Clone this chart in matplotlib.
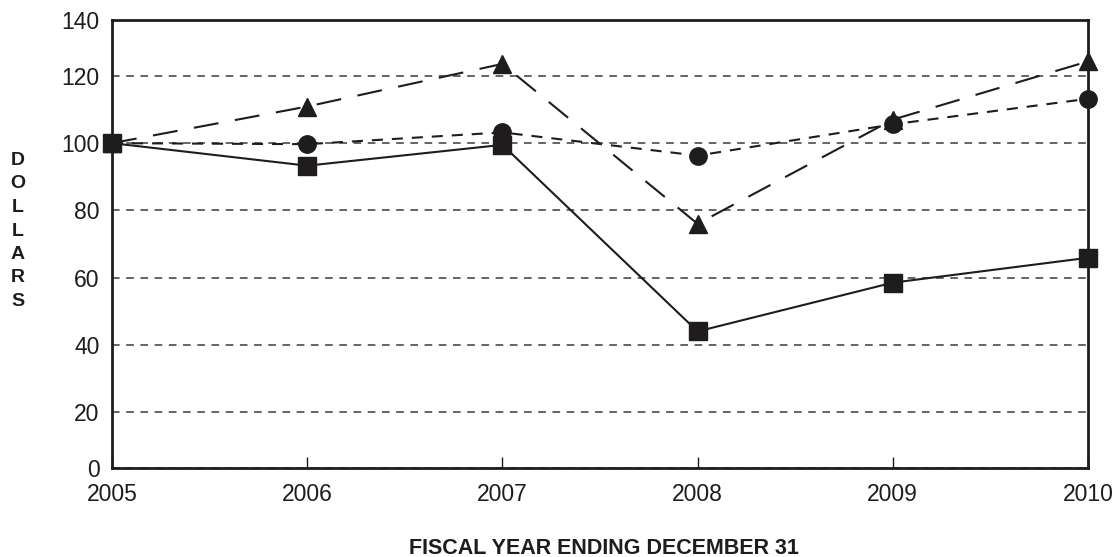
import numpy as np
import matplotlib
matplotlib.use("Agg")
import matplotlib.pyplot as plt

years = [2005, 2006, 2007, 2008, 2009, 2010]
squares = [100, 93.3, 99.5, 44.0, 58.5, 65.9]
circles = [100, 99.7, 103.2, 96.3, 105.6, 113.2]
triangles = [100, 110.9, 124.3, 76.0, 107.0, 125.2]
yticks = [0, 20, 40, 60, 80, 100, 120, 140]
xlabel = "FISCAL YEAR ENDING DECEMBER 31"
ylabel = "DOLLARS"

ink = "#1e1c1d"
plt.rcParams['font.family'] = ['Liberation Sans', 'DejaVu Sans']

fig = plt.figure(figsize=(11.15, 5.57), dpi=100)
ax = fig.add_axes([112/1115, 1-468/557, (1088-112)/1115, (468-20)/557])

# piecewise-linear y scale: outer bands (0-20, 120-140) are compressed
kv = np.array([0, 20, 120, 140], dtype=float)
ku = np.array([0, 16.64, 116.64, 133.28])
fwd = lambda v: np.interp(v, kv, ku)
inv = lambda u: np.interp(u, ku, kv)
ax.set_yscale('function', functions=(fwd, inv))

lw = 1.5
ax.plot(years, triangles, color=ink, lw=lw, linestyle=(0, (12, 8)),
        marker='^', ms=12.5, mfc=ink, mec=ink, zorder=3, clip_on=False)
ax.plot(years, circles, color=ink, lw=lw, linestyle=(0, (5.3, 4.3)),
        marker='o', ms=12.5, mfc=ink, mec=ink, zorder=4, clip_on=False)
ax.plot(years, squares, color=ink, lw=lw, linestyle='-',
        marker='s', ms=12.5, mfc=ink, mec=ink, zorder=5, clip_on=False)

ax.set_xlim(2005, 2010)
ax.set_ylim(0, 140)
ax.set_xticks(years)
ax.set_xticklabels([str(y) for y in years])
ax.set_yticks(yticks)
ax.set_yticklabels([str(t) for t in yticks])

ax.yaxis.grid(True, color='#3a3a3a', lw=1.1, linestyle=(0, (5, 4.3)))
ax.set_axisbelow(True)

for s in ax.spines.values():
    s.set_linewidth(2.0)
    s.set_color(ink)
    s.set_zorder(6)

ax.tick_params(axis='x', direction='in', length=8, width=1, color=ink,
               labelsize=16.5, labelcolor=ink, pad=11)
ax.tick_params(axis='y', length=0, labelsize=16.5, labelcolor=ink, pad=9)

fig.text(604/1115, 1-548/557, xlabel, ha='center', va='center',
         fontsize=15.5, fontweight='bold', color=ink,
         family=['Liberation Sans Narrow', 'Liberation Sans', 'DejaVu Sans'])
fig.text(18/1115, 1-231/557, "\n".join(ylabel), ha='center', va='center',
         fontsize=14, fontweight='bold', color=ink, linespacing=1.5)

fig.savefig("out.png", dpi=100)
